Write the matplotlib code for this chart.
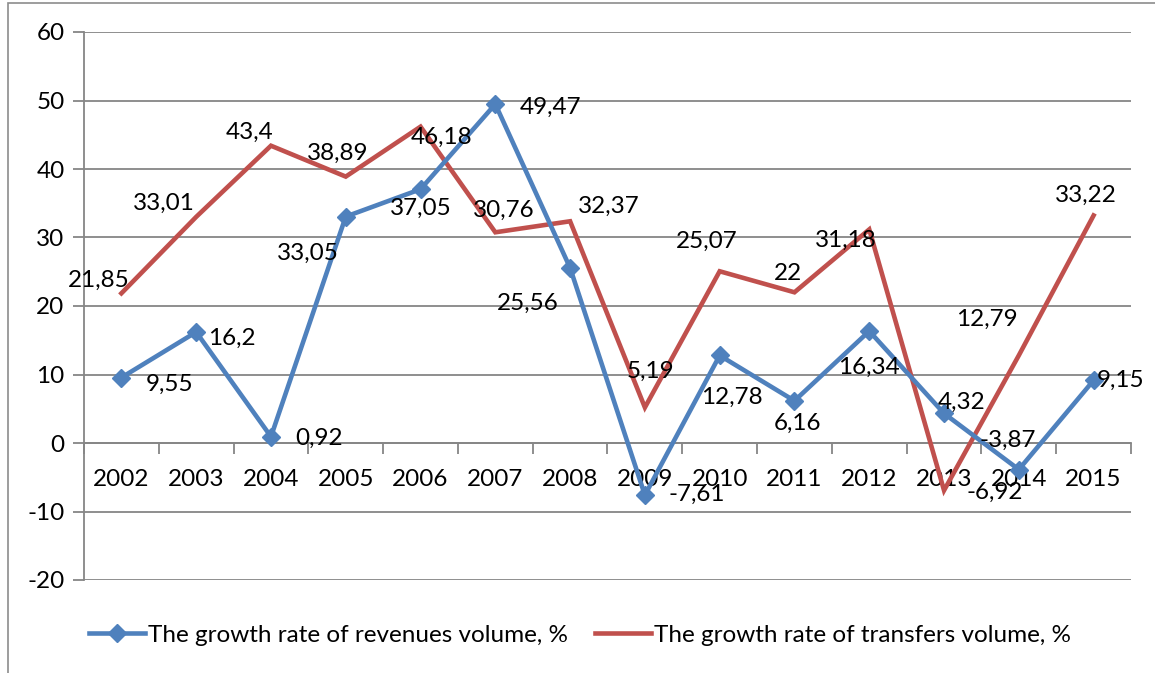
import matplotlib
matplotlib.use("Agg")
import matplotlib.pyplot as plt
from matplotlib.patches import Rectangle
from matplotlib.lines import Line2D

years = ["2002", "2003", "2004", "2005", "2006", "2007", "2008", "2009",
         "2010", "2011", "2012", "2013", "2014", "2015"]
revenues = [9.55, 16.2, 0.92, 33.05, 37.05, 49.47, 25.56, -7.61,
            12.78, 6.16, 16.34, 4.32, -3.87, 9.15]
transfers = [21.85, 33.01, 43.4, 38.89, 46.18, 30.76, 32.37, 5.19,
             25.07, 22, 31.18, -6.92, 12.79, 33.22]
rev_label = "The growth rate of revenues volume, %"
tr_label = "The growth rate of transfers volume, %"

# label offsets in pixels (dx, dy downward)
rev_off = [(48, 7), (36, 6), (48, 2), (-38, 37), (0, 19), (55, 3), (-42, 35),
           (52, -1), (12, 42), (3, 23), (0, 36), (18, -11), (-11, -29), (27, 0)]
tr_off = [(-23, -13), (-32, -14), (-21, -13), (-8, -23), (21, 11), (8, -22), (39, -15),
          (6, -36), (-13, -30), (-6, -19), (-23, 11), (51, 2), (-32, -36), (-8, -20)]

plt.rcParams['font.family'] = ['Lato', 'DejaVu Sans']
plt.rcParams['axes.unicode_minus'] = False
FS = 17.5
BLUE = "#4F81BD"
RED = "#C0504D"
GRID = "#868686"

W, H = 1155, 673
fig = plt.figure(figsize=(W / 100, H / 100), dpi=100)

# outer chart frame
fig.patches.append(Rectangle((8 / W, -0.1), 1.2, 1 - 3 / H + 0.1, transform=fig.transFigure,
                             fill=False, edgecolor="#8c8c8c", linewidth=1.2, zorder=0))

ax = fig.add_axes([84 / W, 1 - 580 / H, (1131 - 84) / W, (580 - 32) / H])
ax.set_facecolor("none")
x = list(range(len(years)))

ax.set_xlim(-0.5, len(years) - 0.5)
ax.set_ylim(-20, 60)
ax.set_yticks(range(-20, 61, 10))
ax.yaxis.grid(True, color=GRID, linewidth=1.3)
ax.set_axisbelow(True)
ax.tick_params(axis='y', length=8, width=1.3, color=GRID, labelsize=FS, pad=6)
for s in ['top', 'right']:
    ax.spines[s].set_visible(False)
ax.spines['left'].set_color(GRID)
ax.spines['left'].set_linewidth(1.3)
ax.spines['bottom'].set_position(('data', 0))
ax.spines['bottom'].set_color(GRID)
ax.spines['bottom'].set_linewidth(1.3)

ax.set_xticks(x)
ax.set_xticklabels(years)
ax.tick_params(axis='x', length=0, labelsize=FS, pad=19)
ax.set_xticks([i + 0.5 for i in range(-1, len(years))], minor=True)
ax.tick_params(axis='x', which='minor', length=8, width=1.3, color=GRID)

ax.plot(x, transfers, color=RED, linewidth=3.3, solid_joinstyle='miter', zorder=3)
ax.plot(x, revenues, color=BLUE, linewidth=3.3, marker='D', markersize=9,
        solid_joinstyle='miter', zorder=4)

def fmt(v):
    return ("%g" % v).replace(".", ",")

for xi, v, (dx, dy) in zip(x, revenues, rev_off):
    ax.annotate(fmt(v), (xi, v), xytext=(dx, -dy), textcoords='offset pixels',
                ha='center', va='center', fontsize=FS, zorder=5)
for xi, v, (dx, dy) in zip(x, transfers, tr_off):
    ax.annotate(fmt(v), (xi, v), xytext=(dx, -dy), textcoords='offset pixels',
                ha='center', va='center', fontsize=FS, zorder=5)

handles = [Line2D([], [], color=BLUE, linewidth=3.3, marker='D', markersize=9),
           Line2D([], [], color=RED, linewidth=3.3)]
fig.legend(handles, [rev_label, tr_label], loc='center', bbox_to_anchor=(580 / W, 1 - 635 / H),
           ncol=2, frameon=False, fontsize=FS, handlelength=2.3, handletextpad=0.12,
           columnspacing=1.1)

fig.savefig("out.png", dpi=100)
